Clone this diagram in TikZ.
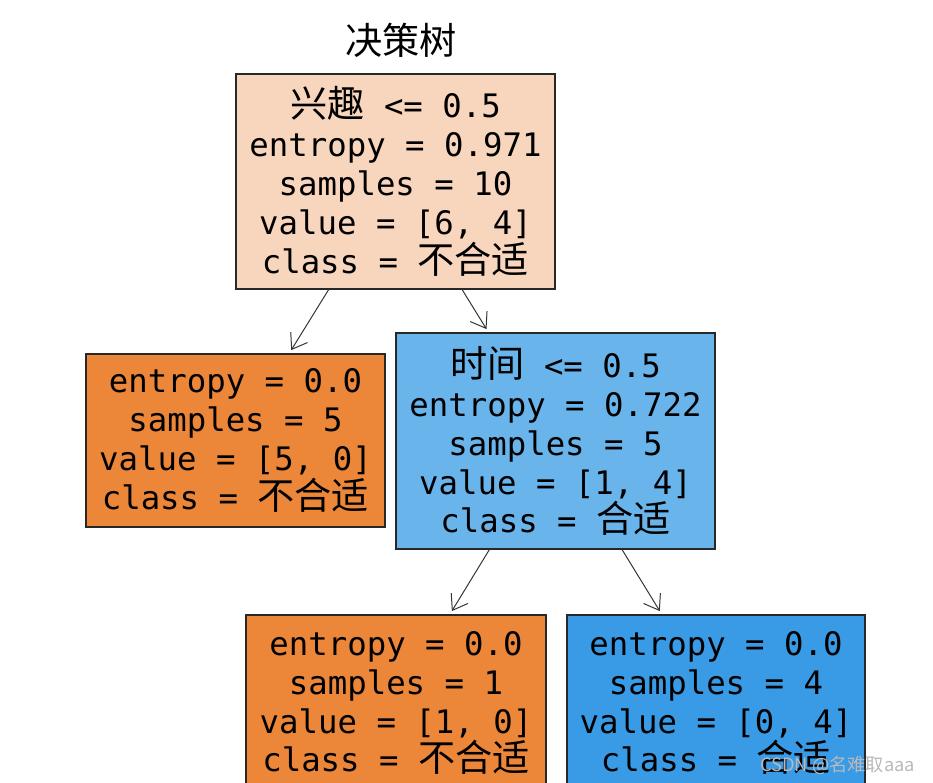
\documentclass[tikz,border=0pt]{standalone}
\usepackage{fontspec}
\usepackage{tikz}
\setmonofont{DejaVu Sans Mono}
\newfontfamily\cjkfont[Scale=1.15]{Noto Sans CJK SC}
\newcommand{\zhtxt}[1]{{\cjkfont #1}}
\usetikzlibrary{arrows.meta}

\definecolor{rootpeach}{RGB}{248,214,190}
\definecolor{leaforange}{RGB}{236,134,56}
\definecolor{splitblue}{RGB}{106,180,236}
\definecolor{leafblue}{RGB}{57,155,229}
\definecolor{boxline}{RGB}{40,40,40}

\begin{document}
\begin{tikzpicture}[x=0.025cm, y=-0.025cm,
    treebox/.style={draw=boxline, line width=0.8pt, align=center, inner sep=0pt,
        font=\fontsize{23}{27.7}\selectfont\ttfamily},
    treearrow/.style={draw=black!80, line width=0.7pt,
        -{Straight Barb[length=10pt,width=14pt]}, shorten >=2.8pt}]
        \clip (0,0) rectangle (933,782);
        \fill[white] (0,0) rectangle (933,782);
        \node (title) at (401,40) {\fontsize{23}{28}\selectfont\zhtxt{决策树}};
        % top split
        \node[treebox, fill=rootpeach, minimum width=7.975cm, minimum height=5.375cm] 
        (root) at (395.5,181.5) {\zhtxt{兴趣} <= 0.5\\entropy = 0.971\\samples = 10\\
        value = [6, 4]\\class = \zhtxt{不合适}};
        % second level
        \node[treebox, fill=leaforange, minimum width=7.475cm, minimum height=4.325cm] 
        (left) at (235.5,440.5) {entropy = 0.0\\samples = 5\\value = [5, 0]\\
        class = \zhtxt{不合适}};
        \node[treebox, fill=splitblue, minimum width=7.975cm, minimum height=5.4cm] 
        (right) at (555.5,441) {\zhtxt{时间} <= 0.5\\entropy = 0.722\\samples = 5\\
        value = [1, 4]\\class = \zhtxt{合适}};
        % third level
        \node[treebox, fill=leaforange, minimum width=7.5cm, minimum height=4.4cm] 
        (botleft) at (396,703) {entropy = 0.0\\samples = 1\\value = [1, 0]\\
        class = \zhtxt{不合适}};
        \node[treebox, fill=leafblue, minimum width=7.45cm, minimum height=4.4cm] 
        (botright) at (716,703) {entropy = 0.0\\samples = 4\\value = [0, 4]\\
        class = \zhtxt{合适}};
        \draw[treearrow] (root) -- (left);
        \draw[treearrow] (root) -- (right);
        \draw[treearrow] (right) -- (botleft);
        \draw[treearrow] (right) -- (botright);
        \node[text=gray!55, anchor=east] (mark) at (920,765) 
        {\fontsize{11.3}{13}\selectfont\cjkfont CSDN @名难取aaa};
\end{tikzpicture}
\end{document}
